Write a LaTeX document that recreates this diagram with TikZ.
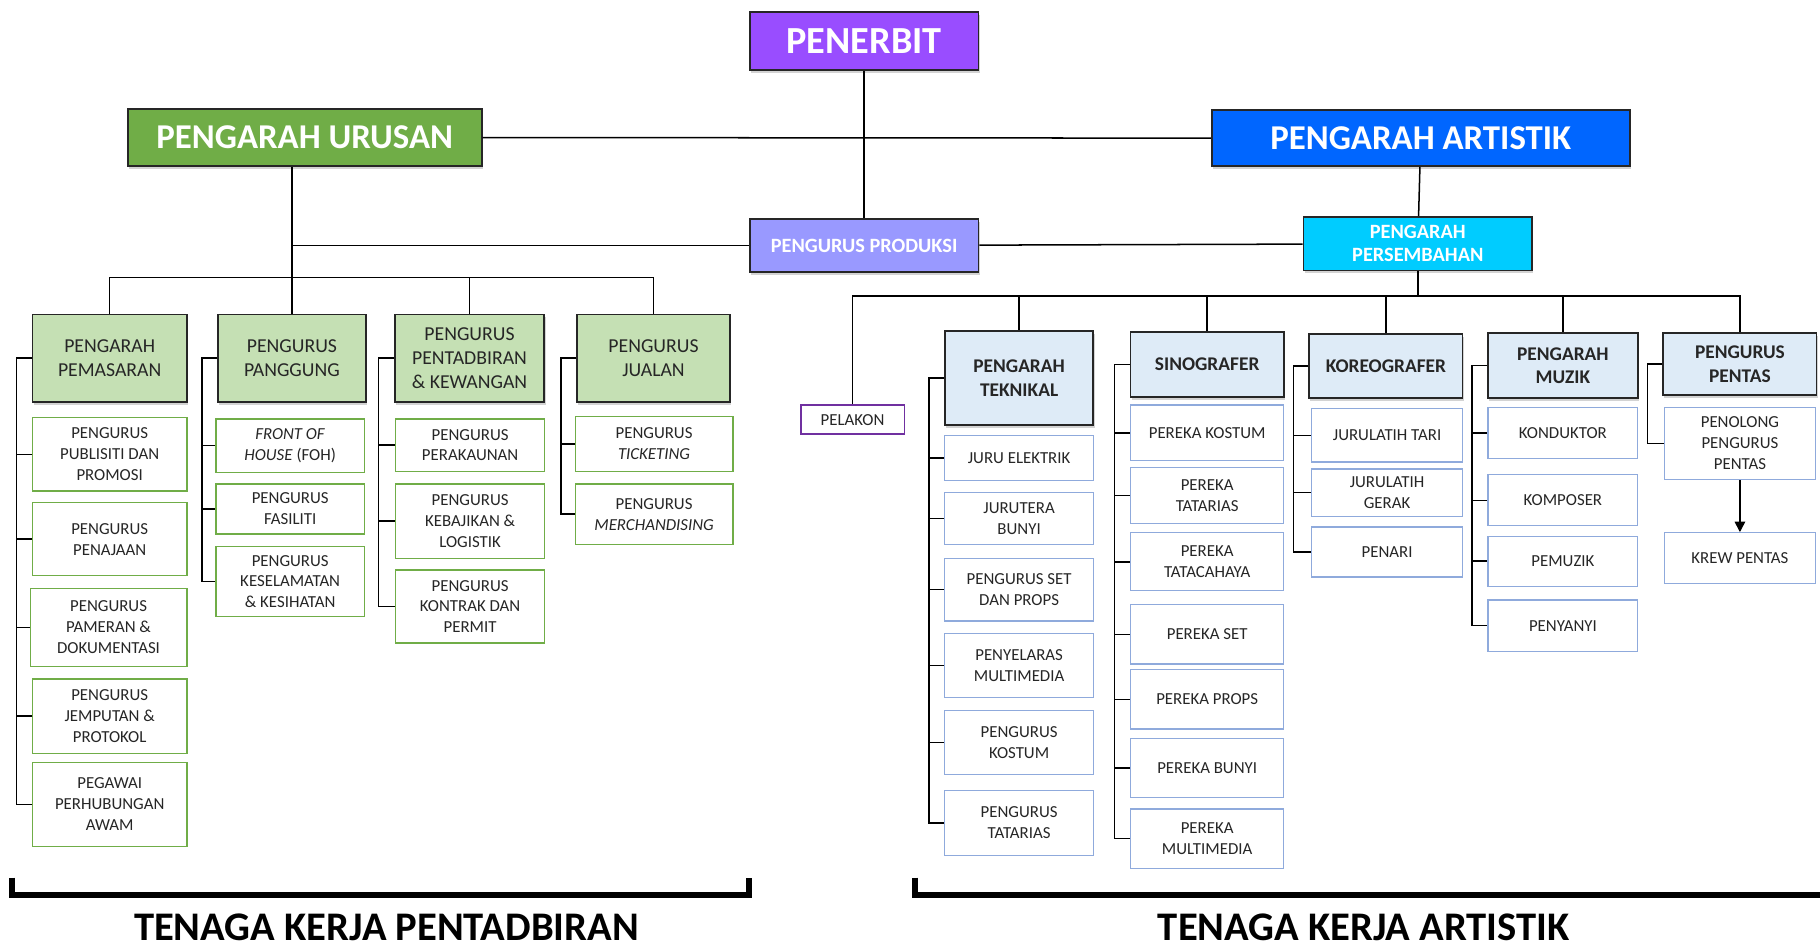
\documentclass[tikz,border=0pt]{standalone}
\usepackage{fontspec}
\setmainfont{Carlito}
\usetikzlibrary{shadows,arrows.meta}
\definecolor{penerbit}{RGB}{153,77,255}
\definecolor{urusan}{RGB}{112,173,71}
\definecolor{artistik}{RGB}{0,102,255}
\definecolor{produksi}{RGB}{153,153,255}
\definecolor{persembahan}{RGB}{0,204,255}
\definecolor{hijaumuda}{RGB}{197,224,180}
\definecolor{birumuda}{RGB}{222,235,247}
\definecolor{garisbiru}{RGB}{143,170,220}
\definecolor{ungu}{RGB}{112,48,160}

\begin{document}
\begin{tikzpicture}[x=1pt, y=-1pt, line width=1.3pt,
    every node/.style={align=center, inner sep=0pt, text=black!85},
    wh/.style 2 args={minimum width=#1pt, minimum height=#2pt},
    bayang/.style={drop shadow={shadow xshift=1pt, shadow yshift=-2.5pt, opacity=0.35}},
    ketua/.style={draw=black!85, line width=1.6pt, text=white, bayang,
        font=\bfseries\fontsize{#1}{20}\selectfont},
    kecil/.style={font=\fontsize{14.5}{18}\selectfont},
    lmgr/.style={draw=black!85, line width=1.6pt, fill=hijaumuda, bayang,
        font=\fontsize{17}{20.5}\selectfont},
    lsub/.style={draw=urusan, line width=1.1pt, fill=white, kecil},
    rmgr/.style={draw=black!85, line width=1.6pt, fill=birumuda, bayang,
        font=\bfseries\fontsize{16.7}{20.5}\selectfont},
    rsub/.style={draw=garisbiru, line width=1.1pt, fill=white, kecil},
    label/.style={text=black, font=\bfseries\fontsize{35}{40}\selectfont}]

    \useasboundingbox (0,0) rectangle (1568,818);

    \node[ketua=33, fill=penerbit, wh={197}{50}] (penerbit) at (744.5,35) {PENERBIT};
    \node[ketua=30, fill=urusan, wh={305}{49}] (urusan) at (262.5,118.5) {PENGARAH URUSAN};
    \node[ketua=30, fill=artistik, wh={360}{48}] (artistik) at (1224,119) {PENGARAH ARTISTIK};
    \node[ketua=17.5, fill=produksi, wh={197}{45}] (produksi) at (744.5,211.5) {PENGURUS PRODUKSI};
    \node[ketua=17.5, fill=persembahan, wh={197}{46}] (persembahan) at (1221.5,210) {PENGARAH\\PERSEMBAHAN};

    \node[lmgr, wh={133}{75}] (mpem) at (94.5,308.5) {PENGARAH\\PEMASARAN};
    \node[lmgr, wh={127}{75}] (mpang) at (251.5,308.5) {PENGURUS\\PANGGUNG};
    \node[lmgr, wh={129}{75}] (mtadbir) at (404.5,308.5) {PENGURUS\\PENTADBIRAN\\\& KEWANGAN};
    \node[lmgr, wh={132}{75}] (mjual) at (563,308.5) {PENGURUS\\JUALAN};

    \node[lsub, wh={133}{63}] (pub) at (94.5,391.5) {PENGURUS\\PUBLISITI DAN\\PROMOSI};
    \node[lsub, wh={133}{63}] (naj) at (94.5,464.5) {PENGURUS\\PENAJAAN};
    \node[lsub, wh={135}{67}] (pam) at (93.5,540.5) {PENGURUS\\PAMERAN \&\\DOKUMENTASI};
    \node[lsub, wh={133}{64}] (jem) at (94.5,617) {PENGURUS\\JEMPUTAN \&\\PROTOKOL};
    \node[lsub, wh={133}{72}] (awam) at (94.5,693) {PEGAWAI\\PERHUBUNGAN\\AWAM};

    \node[lsub, wh={128}{46}] (foh) at (250,384) {\textit{FRONT OF}\\\textit{HOUSE} (FOH)};
    \node[lsub, wh={128}{43}] (fas) at (250,438.5) {PENGURUS\\FASILITI};
    \node[lsub, wh={128}{60}] (kes) at (250,501) {PENGURUS\\KESELAMATAN\\\& KESIHATAN};

    \node[lsub, wh={128}{45}] (akaun) at (405,383.5) {PENGURUS\\PERAKAUNAN};
    \node[lsub, wh={128}{64}] (kebajikan) at (405,449) {PENGURUS\\KEBAJIKAN \&\\LOGISTIK};
    \node[lsub, wh={128}{63}] (kontrak) at (405,522.5) {PENGURUS\\KONTRAK DAN\\PERMIT};

    \node[lsub, wh={136}{47}] (tiket) at (563.5,382.5) {PENGURUS\\\textit{TICKETING}};
    \node[lsub, wh={136}{52}] (merch) at (563.5,443) {PENGURUS\\\textit{MERCHANDISING}};

    \node[draw=ungu, line width=1.1pt, fill=white, kecil, wh={89}{25}] (pelakon) at (734.5,361.5) {PELAKON};

    \node[rmgr, wh={128}{81}] (mtek) at (878,325.5) {PENGARAH\\TEKNIKAL};
    \node[rmgr, wh={132}{56}] (msino) at (1040,314) {SINOGRAFER};
    \node[rmgr, wh={132}{55}] (mkoreo) at (1194,315.5) {KOREOGRAFER};
    \node[rmgr, wh={129}{56}] (mmuzik) at (1346.5,315) {PENGARAH\\MUZIK};
    \node[rmgr, wh={132}{53}] (mpentas) at (1499,313.5) {PENGURUS\\PENTAS};

    \node[rsub, wh={128}{39}] (elektrik) at (878,394.5) {JURU ELEKTRIK};
    \node[rsub, wh={128}{45}] (jbunyi) at (878,446.5) {JURUTERA\\BUNYI};
    \node[rsub, wh={128}{54}] (setprops) at (878,508) {PENGURUS SET\\DAN PROPS};
    \node[rsub, wh={128}{55}] (selaras) at (878,573.5) {PENYELARAS\\MULTIMEDIA};
    \node[rsub, wh={128}{55}] (gkostum) at (878,639.5) {PENGURUS\\KOSTUM};
    \node[rsub, wh={128}{56}] (gtatarias) at (878,709) {PENGURUS\\TATARIAS};

    \node[rsub, wh={132}{48}] (rkostum) at (1040,373) {PEREKA KOSTUM};
    \node[rsub, wh={132}{48}] (rtatarias) at (1040,427) {PEREKA\\TATARIAS};
    \node[rsub, wh={132}{50}] (rcahaya) at (1040,484) {PEREKA\\TATACAHAYA};
    \node[rsub, wh={132}{51}] (rset) at (1040,546.5) {PEREKA SET};
    \node[rsub, wh={132}{51}] (rprops) at (1040,602.5) {PEREKA PROPS};
    \node[rsub, wh={132}{51}] (rbunyi) at (1040,661.5) {PEREKA BUNYI};
    \node[rsub, wh={132}{51}] (rmulti) at (1040,722.5) {PEREKA\\MULTIMEDIA};

    \node[rsub, wh={130}{46}] (tari) at (1195,375) {JURULATIH TARI};
    \node[rsub, wh={130}{41}] (gerak) at (1195,424.5) {JURULATIH\\GERAK};
    \node[rsub, wh={130}{43}] (penari) at (1195,475.5) {PENARI};

    \node[rsub, wh={129}{44}] (konduktor) at (1346.5,373) {KONDUKTOR};
    \node[rsub, wh={129}{44}] (komposer) at (1346.5,431) {KOMPOSER};
    \node[rsub, wh={129}{43}] (pemuzik) at (1346.5,483.5) {PEMUZIK};
    \node[rsub, wh={129}{44}] (penyanyi) at (1346.5,539) {PENYANYI};

    \node[rsub, wh={130}{62}] (penolong) at (1499,382) {PENOLONG\\PENGURUS\\PENTAS};
    \node[rsub, wh={130}{44}] (krew) at (1499,481) {KREW PENTAS};

    \draw (urusan.east) -- (artistik.west);
    \draw (penerbit) -- (produksi);
    \draw (artistik) -- (persembahan);
    \draw (produksi) -- (persembahan);
    \draw (urusan.south -| mpang.north) -- (mpang.north);
    \draw (produksi.west) -- (produksi.west -| mpang.north);

    \draw (mpem.north) -- ++(0,-31) -| (mjual.north);
    \foreach \m in {mpang,mtadbir} \draw (\m.north) -- ++(0,-31);
    \foreach \s in {pub,naj,pam,jem,awam} \draw (mpem.west) -- ++(-13,0) |- (\s.west);
    \foreach \s in {foh,fas,kes} \draw (mpang.west) -- ++(-13,0) |- (\s.west);
    \foreach \s in {akaun,kebajikan,kontrak} \draw (mtadbir.west) -- ++(-13,0) |- (\s.west);
    \foreach \s in {tiket,merch} \draw (mjual.west) -- ++(-13,0) |- (\s.west);

    \coordinate (busR) at (0,255);
    \draw (pelakon.north) |- (mpentas.north |- busR) -- (mpentas.north);
    \draw (persembahan) -- (persembahan.south |- busR);
    \foreach \m in {mtek,msino,mkoreo,mmuzik} \draw (\m.north |- busR) -- (\m.north);
    \foreach \s in {elektrik,jbunyi,setprops,selaras,gkostum,gtatarias} \draw (mtek.west) -- ++(-13,0) |- (\s.west);
    \foreach \s in {rkostum,rtatarias,rcahaya,rset,rprops,rbunyi,rmulti} \draw (msino.west) -- ++(-13,0) |- (\s.west);
    \foreach \s in {tari,gerak,penari} \draw (mkoreo.west) -- ++(-13,0) |- (\s.west);
    \foreach \s in {konduktor,komposer,pemuzik,penyanyi} \draw (mmuzik.west) -- ++(-13,0) |- (\s.west);
    \draw (mpentas.west) -- ++(-13,0) |- (penolong.west);
    \draw[-{Triangle[width=9pt,length=9pt]}] (penolong) -- (krew);

    \draw[line width=5pt] (10,756) |- (645,771) -- (645,756);
    \draw[line width=5pt] (788,756) |- (1580,771);
    \node[label] (ltadbir) at (333,799) {TENAGA KERJA PENTADBIRAN};
    \node[label] (lartistik) at (1175,799) {TENAGA KERJA ARTISTIK};
\end{tikzpicture}
\end{document}
